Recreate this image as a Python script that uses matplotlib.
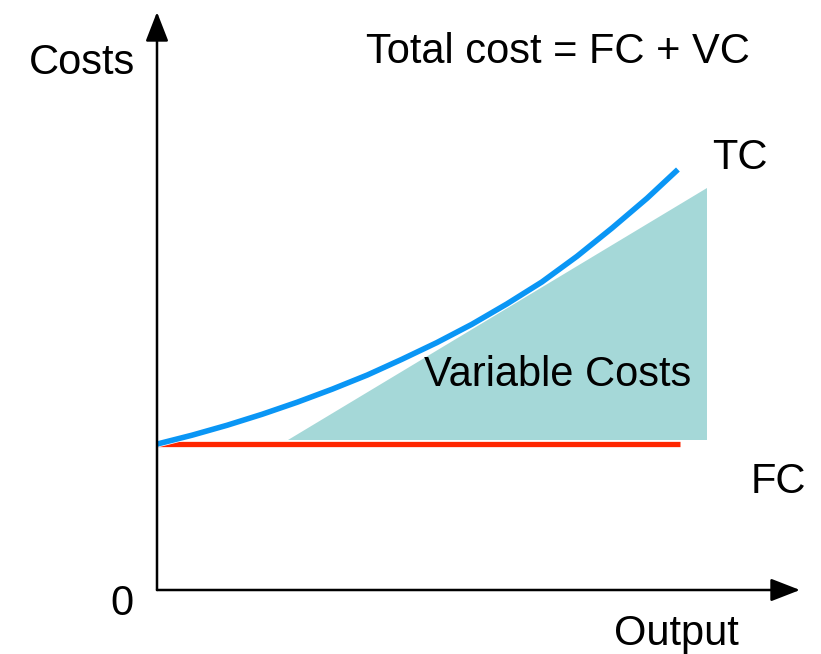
import matplotlib.pyplot as plt
import matplotlib.patheffects as pe
import numpy as np

plt.rcParams['font.family'] = ['Liberation Sans', 'DejaVu Sans']

# total cost curve (output vs cost)
output = [0, 0.67, 1.34, 2.01, 2.68, 3.35, 4.02, 4.68, 5.35, 6.02,
          6.69, 7.36, 8.03, 8.70, 9.37, 9.96]
tc = [2.79, 2.96, 3.15, 3.36, 3.59, 3.84, 4.11, 4.41, 4.73, 5.08,
      5.47, 5.89, 6.38, 6.92, 7.49, 8.04]

# fixed cost line
fc_x = [0, 10.0]
fc_y = [2.79, 2.79]

# variable cost wedge
vc_x = [2.5, 10.52, 10.52]
vc_y = [2.87, 2.87, 7.69]

fig = plt.figure(figsize=(8.21, 6.54), dpi=100)
ax = fig.add_axes([0, 0, 1, 1])
k = 52.3
ax.set_xlim(-157 / k, (821 - 157) / k)
ax.set_ylim(-(654 - 590) / k, 590 / k)
ax.axis('off')

ax.fill(vc_x, vc_y, color='#a5d8d8', lw=0, zorder=1)
ax.plot(fc_x, fc_y, color='#ff2600', lw=3.8, solid_capstyle='butt', zorder=2)
ax.plot(output, tc, color='#0a96f5', lw=4, solid_capstyle='butt',
        solid_joinstyle='round', zorder=3,
        path_effects=[pe.Stroke(linewidth=5, foreground='white'), pe.Normal()])

# axes with arrow heads
arrow = dict(arrowstyle='-|>,head_length=0.9,head_width=0.35', color='black',
             lw=1.8, shrinkA=0, shrinkB=0, mutation_scale=20)
ax.annotate('', xy=(0, 578 / k), xytext=(0, 0), arrowprops=arrow)
ax.annotate('', xy=((800 - 157) / k, 0), xytext=(0, 0), arrowprops=arrow)

def px(x, y):
    return (x - 157) / k, (590 - y) / k

fs = 30
ax.text(*px(82, 63), 'Costs', fontsize=fs, ha='center', va='center')
ax.text(*px(558, 52), 'Total cost = FC + VC', fontsize=fs, ha='center', va='center')
ax.text(*px(740, 158), 'TC', fontsize=fs, ha='center', va='center')
ax.text(*px(558, 375), 'Variable Costs', fontsize=fs, ha='center', va='center')
ax.text(*px(778, 482), 'FC', fontsize=fs, ha='center', va='center')
ax.text(*px(122, 604), '0', fontsize=fs, ha='center', va='center')
ax.text(*px(676, 634), 'Output', fontsize=fs, ha='center', va='center')

fig.savefig('out.png', dpi=100)
